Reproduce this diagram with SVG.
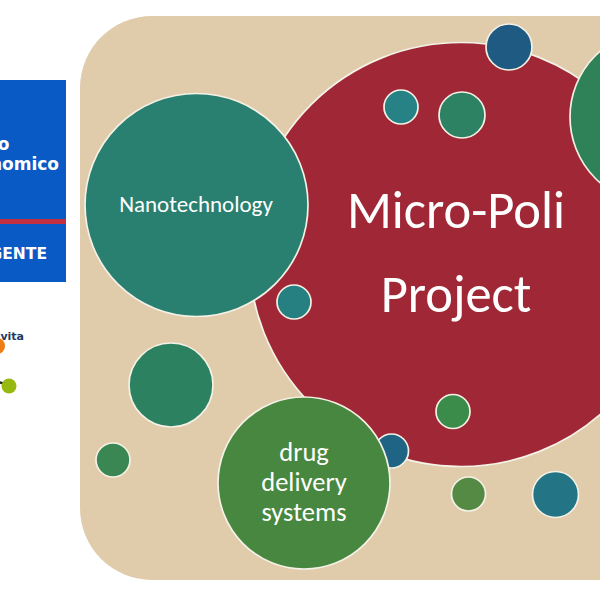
<svg xmlns="http://www.w3.org/2000/svg" width="600" height="600" viewBox="0 0 600 600">
<style>
.c{stroke:#f4f1e6;stroke-width:1.700}
.t{fill:#fff;font-family:Carlito,Lato,"Open Sans",sans-serif;text-anchor:middle}
.b{fill:#fff;font-family:"DejaVu Sans",sans-serif;font-weight:700;font-size:17px;text-anchor:end}
</style>
<rect width="600" height="600" fill="#fff"/>
<g id="sidebar">
<rect x="-10" y="80" width="76" height="202" fill="#0a5ac6"/>
<rect x="-10" y="219" width="76" height="5" fill="#c2303f"/>
<text class="b" x="9.500" y="150">o</text>
<text class="b" x="59" y="170">nomico</text>
<text class="b" x="47" y="259" style="font-size:15.500px">GENTE</text>
<text x="24" y="340" font-family="'DejaVu Sans',sans-serif" font-weight="700" font-size="11" fill="#1f3864" text-anchor="end">vita</text>
<line x1="-5" y1="381" x2="9" y2="385" stroke="#222" stroke-width="2.500"/>
<circle cx="-3" cy="346" r="8" fill="#ed7d14"/>
<circle cx="9" cy="386" r="7.500" fill="#97b90f"/>
</g>
<rect id="panel" x="80" y="16" width="600" height="564" rx="72" fill="#e0cbab"/>
<g id="connectors"></g>
<g id="node-micro-poli">
<circle class="c" cx="461" cy="254.500" r="212" fill="#a02735"/>
<text class="t" x="456" y="228" font-size="52.500">Micro-Poli</text>
<text class="t" x="456" y="312" font-size="52.500">Project</text>
</g>
<g id="node-n1"><circle class="c" cx="509" cy="47" r="23" fill="#1e5a82"/></g>
<g id="node-n2"><circle class="c" cx="401" cy="107" r="17" fill="#268284"/></g>
<g id="node-n3"><circle class="c" cx="462" cy="115" r="23" fill="#2d8263"/></g>
<g id="node-n4"><circle class="c" cx="657" cy="117" r="87" fill="#2f8257"/></g>
<g id="node-nanotechnology">
<circle class="c" cx="196.500" cy="205" r="111.500" fill="#2a8070"/>
<text class="t" x="196" y="212" font-size="23">Nanotechnology</text>
</g>
<g id="node-n5"><circle class="c" cx="294" cy="302" r="17" fill="#267f80"/></g>
<g id="node-n6"><circle class="c" cx="171" cy="385" r="42" fill="#2c8161"/></g>
<g id="node-n7"><circle class="c" cx="113" cy="460" r="17" fill="#3a8754"/></g>
<g id="node-n8"><circle class="c" cx="453" cy="411.500" r="17" fill="#3b8b4b"/></g>
<g id="node-n9"><circle class="c" cx="391.500" cy="451" r="17" fill="#1f6485"/></g>
<g id="node-drug-delivery">
<circle class="c" cx="304" cy="483" r="86" fill="#48873f"/>
<text class="t" x="304" y="461" font-size="26.500">drug</text>
<text class="t" x="304" y="491" font-size="26.500">delivery</text>
<text class="t" x="304" y="521" font-size="26.500">systems</text>
</g>
<g id="node-n10"><circle class="c" cx="468.500" cy="494" r="17" fill="#558a45"/></g>
<g id="node-n11"><circle class="c" cx="555.500" cy="494.500" r="23" fill="#237585"/></g>
</svg>
